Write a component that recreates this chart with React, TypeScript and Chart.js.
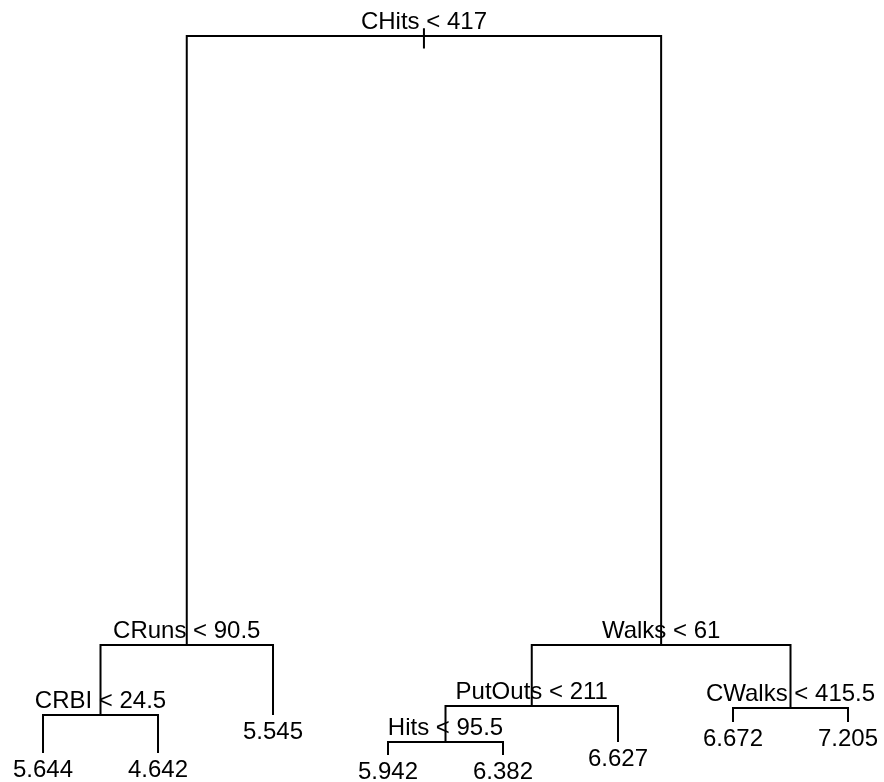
import React, { useEffect, useRef } from "react";
import { Chart, registerables } from "chart.js";

Chart.register(...registerables);

// Regression tree (R "tree" layout). Nodes use R numbering: children of n are 2n and 2n+1.
const nodeIds = [1, 2, 4, 8, 9, 5, 3, 6, 12, 24, 25, 13, 7, 14, 15];
const nodeLabels = [
  "CHits < 417",
  "CRuns < 90.5",
  "CRBI < 24.5",
  "5.644",
  "4.642",
  "5.545",
  "Walks < 61",
  "PutOuts < 211",
  "Hits < 95.5",
  "5.942",
  "6.382",
  "6.627",
  "CWalks < 415.5",
  "6.672",
  "7.205",
];
// node heights (vertical position in plot units)
const nodeHeights = [95.4, 17.52, 8.57, 3.71, 3.71, 8.57, 17.52, 9.72, 5.12, 3.45, 3.45, 5.12, 9.46, 7.67, 7.67];

export default function App() {
  const ref = useRef<HTMLCanvasElement | null>(null);

  useEffect(() => {
    if (!ref.current) return;
    const idx: Record<number, number> = {};
    nodeIds.forEach((id, i) => (idx[id] = i));
    const isLeaf = (id: number) => idx[2 * id] === undefined;

    // leaf x = order index, internal x = mean of children
    const xs: Record<number, number> = {};
    let leafCount = 0;
    const place = (id: number): number => {
      if (isLeaf(id)) {
        leafCount += 1;
        xs[id] = leafCount;
      } else {
        const a = place(2 * id);
        const b = place(2 * id + 1);
        xs[id] = (a + b) / 2;
      }
      return xs[id];
    };
    place(1);
    const yOf = (id: number) => nodeHeights[idx[id]];

    const datasets: any[] = [];
    const lineStyle = {
      showLine: true,
      pointRadius: 0,
      borderColor: "#000",
      borderWidth: 2,
      borderJoinStyle: "miter",
      fill: false,
      tension: 0,
    };
    nodeIds.forEach((id) => {
      if (isLeaf(id)) return;
      const l = 2 * id;
      const r = 2 * id + 1;
      datasets.push({
        ...lineStyle,
        data: [
          { x: xs[l], y: yOf(l) },
          { x: xs[l], y: yOf(id) },
          { x: xs[r], y: yOf(id) },
          { x: xs[r], y: yOf(r) },
        ],
      });
    });
    // root stem
    datasets.push({
      ...lineStyle,
      data: [
        { x: xs[1], y: yOf(1) + 1.0 },
        { x: xs[1], y: yOf(1) - 1.6 },
      ],
    });

    const labelPlugin = {
      id: "treeLabels",
      afterDatasetsDraw(chart: any) {
        const { ctx, scales } = chart;
        ctx.save();
        ctx.font = '24px "Liberation Sans", Arial, sans-serif';
        ctx.fillStyle = "#000";
        ctx.textAlign = "center";
        ctx.textBaseline = "alphabetic";
        nodeIds.forEach((id, i) => {
          const px = scales.x.getPixelForValue(xs[id]);
          const py = scales.y.getPixelForValue(yOf(id));
          if (isLeaf(id)) ctx.fillText(nodeLabels[i], px, py + 24);
          else ctx.fillText(nodeLabels[i], px, py - 7);
        });
        ctx.restore();
      },
    };

    const chart = new Chart(ref.current, {
      type: "scatter",
      data: { datasets },
      options: {
        animation: false,
        responsive: false,
        maintainAspectRatio: false,
        layout: { padding: 0 },
        plugins: { legend: { display: false }, tooltip: { enabled: false } },
        scales: {
          x: { type: "linear", min: 0.626, max: 8.313, display: false },
          y: { type: "linear", min: 0, max: 100, display: false },
        },
      },
      plugins: [labelPlugin],
    });
    return () => chart.destroy();
  }, []);

  return (
    <div style={{ position: "absolute", left: 0, top: 0, width: 884, height: 782, background: "#fff" }}>
      <canvas ref={ref} width={884} height={782} />
    </div>
  );
}
